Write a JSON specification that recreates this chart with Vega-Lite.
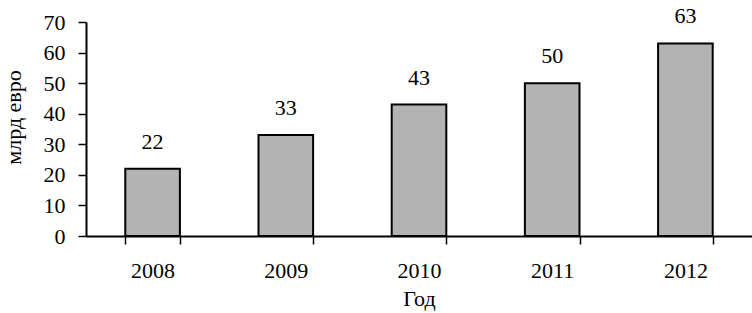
{
  "$schema": "https://vega.github.io/schema/vega-lite/v6.json",
  "autosize": "none",
  "width": 666,
  "height": 214,
  "padding": {"left": 86, "top": 22, "right": 0, "bottom": 77},
  "background": "white",
  "config": {
    "view": {"stroke": null},
    "font": "Liberation Serif",
    "axis": {
      "labelFont": "Liberation Serif",
      "titleFont": "Liberation Serif",
      "labelFontSize": 22,
      "titleFontSize": 22,
      "labelColor": "black",
      "titleColor": "black",
      "titleFontWeight": "normal",
      "domainColor": "black",
      "tickColor": "black",
      "domainWidth": 2,
      "tickWidth": 1.5,
      "tickSize": 8,
      "grid": false
    }
  },
  "data": {
    "values": [
      {"year": "2008", "value": 22},
      {"year": "2009", "value": 33},
      {"year": "2010", "value": 43},
      {"year": "2011", "value": 50},
      {"year": "2012", "value": 63}
    ]
  },
  "encoding": {
    "x": {
      "field": "year",
      "type": "nominal",
      "scale": {"paddingInner": 0.59, "paddingOuter": 0.295},
      "axis": {
        "title": "Год",
        "labelAngle": 0,
        "tickBand": "extent",
        "labelPadding": 16,
        "titlePadding": 7
      }
    },
    "y": {
      "field": "value",
      "type": "quantitative",
      "scale": {"domain": [0, 70], "nice": false},
      "axis": {
        "title": "млрд евро",
        "values": [0, 10, 20, 30, 40, 50, 60, 70],
        "labelPadding": 13,
        "titleX": -61,
        "titleY": 95,
        "titleAngle": -90,
        "titleBaseline": "bottom"
      }
    }
  },
  "layer": [
    {
      "mark": {"type": "bar", "fill": "#b3b3b3", "stroke": "black", "strokeWidth": 2}
    },
    {
      "mark": {"type": "text", "dy": -20, "baseline": "alphabetic", "fontSize": 22, "font": "Liberation Serif", "color": "black"},
      "encoding": {"text": {"field": "value", "type": "quantitative"}}
    }
  ]
}
